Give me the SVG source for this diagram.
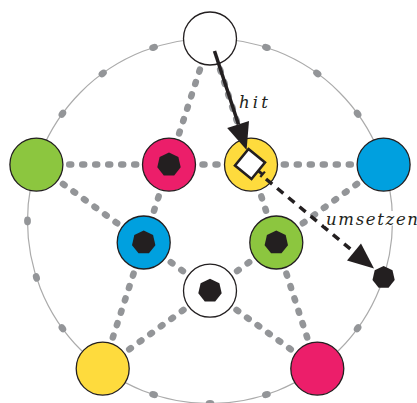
<svg xmlns="http://www.w3.org/2000/svg" width="417" height="403" viewBox="0 0 417 403">
<style>
.ring{fill:none;stroke:#ababab;stroke-width:1.2}
.adot{fill:#939598}
.a{stroke:#939598;stroke-width:6.5;stroke-linecap:round;stroke-dasharray:2 11;stroke-dashoffset:-6.8;fill:none}
.b{stroke:#939598;stroke-width:6.5;stroke-linecap:round;stroke-dasharray:2 11;stroke-dashoffset:-7.5;fill:none}
.node{stroke:#231f20;stroke-width:1.3}
.hep{fill:#231f20}
.arr{stroke:#231f20;stroke-width:3.5;fill:none}
.head{fill:#231f20}
.lbl{font-family:"DejaVu Serif","Liberation Serif",serif;font-style:italic;font-size:16.5px;fill:#231f20}
</style>
<defs>
<polygon id="hept" points="0,-12 -9.38,-7.48 -11.7,2.67 -5.21,10.81 5.21,10.81 11.7,2.67 9.38,-7.48"/>
<ellipse id="ad" rx="4.4" ry="3.4"/>
</defs>
<circle class="ring" cx="210" cy="221" r="182.5"/>
<g id="arc-dots" class="adot">
<use href="#ad" transform="translate(357.6,113.7) rotate(54)"/>
<use href="#ad" transform="translate(317.3,73.4) rotate(36)"/>
<use href="#ad" transform="translate(266.4,47.4) rotate(18)"/>
<use href="#ad" transform="translate(153.6,47.4) rotate(-18)"/>
<use href="#ad" transform="translate(102.7,73.4) rotate(-36)"/>
<use href="#ad" transform="translate(62.4,113.7) rotate(-54)"/>
<use href="#ad" transform="translate(27.5,221) rotate(-90)"/>
<use href="#ad" transform="translate(36.4,277.4) rotate(-108)"/>
<use href="#ad" transform="translate(62.4,328.3) rotate(-126)"/>
<use href="#ad" transform="translate(153.6,394.6) rotate(-162)"/>
<use href="#ad" transform="translate(210,403.5)"/>
<use href="#ad" transform="translate(266.4,394.6) rotate(162)"/>
<use href="#ad" transform="translate(357.6,328.3) rotate(126)"/>
</g>
<g id="connectors">
<line class="a" x1="210" y1="38.5" x2="169" y2="164.6"/>
<line class="a" x1="210" y1="38.5" x2="251" y2="164.6"/>
<line class="a" x1="36.4" y1="164.6" x2="169" y2="164.6"/>
<line class="a" x1="36.4" y1="164.6" x2="143.7" y2="242.5"/>
<line class="a" x1="383.6" y1="164.6" x2="251" y2="164.6"/>
<line class="a" x1="383.6" y1="164.6" x2="276.3" y2="242.5"/>
<line class="a" x1="102.7" y1="368.6" x2="143.7" y2="242.5"/>
<line class="a" x1="102.7" y1="368.6" x2="210" y2="290.7"/>
<line class="a" x1="317.3" y1="368.6" x2="276.3" y2="242.5"/>
<line class="a" x1="317.3" y1="368.6" x2="210" y2="290.7"/>
<line class="b" x1="169" y1="164.6" x2="251" y2="164.6"/>
<line class="b" x1="169" y1="164.6" x2="143.7" y2="242.5"/>
<line class="b" x1="251" y1="164.6" x2="276.3" y2="242.5"/>
<line class="b" x1="143.7" y1="242.5" x2="210" y2="290.7"/>
<line class="b" x1="276.3" y1="242.5" x2="210" y2="290.7"/>
</g>
<g id="n-top"><circle class="node" cx="210" cy="38.5" r="26.5" fill="#ffffff"/></g>
<g id="n-left"><circle class="node" cx="36.4" cy="164.6" r="26.5" fill="#8cc63f"/></g>
<g id="n-right"><circle class="node" cx="383.6" cy="164.6" r="26.5" fill="#00a0df"/></g>
<g id="n-bl"><circle class="node" cx="102.7" cy="368.6" r="26.5" fill="#fedb3d"/></g>
<g id="n-br"><circle class="node" cx="317.3" cy="368.6" r="26.5" fill="#ec1e6a"/></g>
<g id="n-mag"><circle class="node" cx="169" cy="164.6" r="26.5" fill="#ec1e6a"/><use href="#hept" class="hep" x="169" y="164.6"/></g>
<g id="n-yel"><circle class="node" cx="251" cy="164.6" r="26.5" fill="#fedb3d"/>
<polygon points="248.5,149 265,162.5 251.5,179 235,165.5" fill="#ffffff" stroke="#231f20" stroke-width="2.6" stroke-linejoin="miter"/>
<line x1="258.3" y1="170.8" x2="262.6" y2="174.4" stroke="#231f20" stroke-width="3"/>
<line x1="260.3" y1="177" x2="264.9" y2="171.6" stroke="#231f20" stroke-width="2.2"/>
</g>
<g id="n-blue"><circle class="node" cx="143.7" cy="242.5" r="26.5" fill="#00a0df"/><use href="#hept" class="hep" x="143.7" y="242.5"/></g>
<g id="n-green"><circle class="node" cx="276.3" cy="242.5" r="26.5" fill="#8cc63f"/><use href="#hept" class="hep" x="276.3" y="242.5"/></g>
<g id="n-white"><circle class="node" cx="210" cy="290.7" r="26.5" fill="#ffffff"/><use href="#hept" class="hep" x="210" y="290.7"/></g>
<g id="n-target"><use href="#hept" class="hep" transform="translate(383.6,277.4) scale(0.95)"/></g>
<g id="arrows">
<line class="arr" x1="214.5" y1="51" x2="238.5" y2="124.5"/>
<polygon class="head" points="246.6,150 227.2,128 249,121"/>
<line class="arr" x1="266" y1="179" x2="354" y2="252" stroke-dasharray="8 6.5"/>
<polygon class="head" points="374,268.5 347,260.4 361,243.4"/>
</g>
<g id="labels">
<text class="lbl" x="239" y="108" textLength="29" lengthAdjust="spacing">hit</text>
<rect x="324" y="211" width="93" height="14.5" fill="#ffffff"/>
<text class="lbl" x="326" y="225" textLength="92" lengthAdjust="spacing">umsetzen</text>
</g>
</svg>
